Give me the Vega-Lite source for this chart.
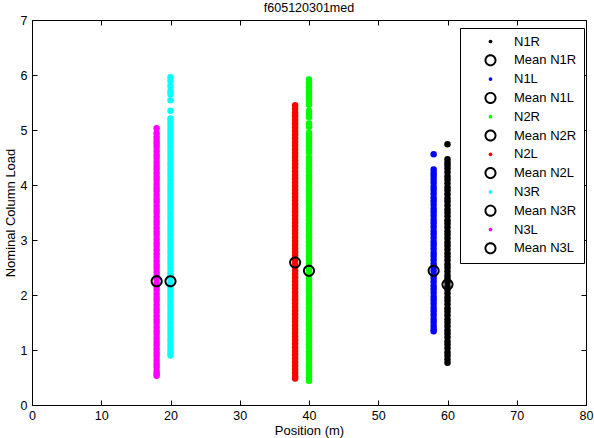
{
  "$schema": "https://vega.github.io/schema/vega-lite/v6.json",
  "autosize": "none",
  "width": 554,
  "height": 385,
  "padding": {"left": 32, "top": 20, "right": 8, "bottom": 33},
  "title": {"text": "f605120301med", "fontSize": 12.5, "fontWeight": "normal", "offset": 0, "color": "black", "anchor": "middle"},
  "datasets": {
    "pts": [
      {"s":"N1R","x":60,"y":4.74},{"s":"N1R","x":60,"y":4.47},{"s":"N1R","x":60,"y":4.41},{"s":"N1R","x":60,"y":4.36},{"s":"N1R","x":60,"y":4.30},{"s":"N1R","x":60,"y":4.23},{"s":"N1R","x":60,"y":4.16},{"s":"N1R","x":60,"y":4.10},{"s":"N1R","x":60,"y":4.03},{"s":"N1R","x":60,"y":3.96},{"s":"N1R","x":60,"y":3.90},{"s":"N1R","x":60,"y":3.83},{"s":"N1R","x":60,"y":3.76},{"s":"N1R","x":60,"y":3.70},{"s":"N1R","x":60,"y":3.63},{"s":"N1R","x":60,"y":3.56},{"s":"N1R","x":60,"y":3.50},{"s":"N1R","x":60,"y":3.43},{"s":"N1R","x":60,"y":3.36},{"s":"N1R","x":60,"y":3.30},{"s":"N1R","x":60,"y":3.23},{"s":"N1R","x":60,"y":3.16},{"s":"N1R","x":60,"y":3.10},{"s":"N1R","x":60,"y":3.03},{"s":"N1R","x":60,"y":2.96},{"s":"N1R","x":60,"y":2.90},{"s":"N1R","x":60,"y":2.83},{"s":"N1R","x":60,"y":2.76},{"s":"N1R","x":60,"y":2.70},{"s":"N1R","x":60,"y":2.63},{"s":"N1R","x":60,"y":2.56},{"s":"N1R","x":60,"y":2.50},{"s":"N1R","x":60,"y":2.43},{"s":"N1R","x":60,"y":2.36},{"s":"N1R","x":60,"y":2.30},{"s":"N1R","x":60,"y":2.23},{"s":"N1R","x":60,"y":2.16},{"s":"N1R","x":60,"y":2.10},{"s":"N1R","x":60,"y":2.03},{"s":"N1R","x":60,"y":1.96},{"s":"N1R","x":60,"y":1.90},{"s":"N1R","x":60,"y":1.83},{"s":"N1R","x":60,"y":1.76},{"s":"N1R","x":60,"y":1.70},{"s":"N1R","x":60,"y":1.63},{"s":"N1R","x":60,"y":1.56},{"s":"N1R","x":60,"y":1.50},{"s":"N1R","x":60,"y":1.43},{"s":"N1R","x":60,"y":1.36},{"s":"N1R","x":60,"y":1.30},{"s":"N1R","x":60,"y":1.23},{"s":"N1R","x":60,"y":1.16},{"s":"N1R","x":60,"y":1.10},{"s":"N1R","x":60,"y":1.03},{"s":"N1R","x":60,"y":0.96},{"s":"N1R","x":60,"y":0.90},{"s":"N1R","x":60,"y":0.83},{"s":"N1R","x":60,"y":0.77},

      {"s":"N1L","x":58,"y":4.56},{"s":"N1L","x":58,"y":4.28},{"s":"N1L","x":58,"y":4.22},{"s":"N1L","x":58,"y":4.17},{"s":"N1L","x":58,"y":4.11},{"s":"N1L","x":58,"y":4.04},{"s":"N1L","x":58,"y":3.97},{"s":"N1L","x":58,"y":3.91},{"s":"N1L","x":58,"y":3.84},{"s":"N1L","x":58,"y":3.77},{"s":"N1L","x":58,"y":3.71},{"s":"N1L","x":58,"y":3.64},{"s":"N1L","x":58,"y":3.57},{"s":"N1L","x":58,"y":3.51},{"s":"N1L","x":58,"y":3.44},{"s":"N1L","x":58,"y":3.37},{"s":"N1L","x":58,"y":3.31},{"s":"N1L","x":58,"y":3.24},{"s":"N1L","x":58,"y":3.17},{"s":"N1L","x":58,"y":3.11},{"s":"N1L","x":58,"y":3.04},{"s":"N1L","x":58,"y":2.97},{"s":"N1L","x":58,"y":2.91},{"s":"N1L","x":58,"y":2.84},{"s":"N1L","x":58,"y":2.77},{"s":"N1L","x":58,"y":2.71},{"s":"N1L","x":58,"y":2.64},{"s":"N1L","x":58,"y":2.57},{"s":"N1L","x":58,"y":2.51},{"s":"N1L","x":58,"y":2.44},{"s":"N1L","x":58,"y":2.37},{"s":"N1L","x":58,"y":2.31},{"s":"N1L","x":58,"y":2.24},{"s":"N1L","x":58,"y":2.17},{"s":"N1L","x":58,"y":2.11},{"s":"N1L","x":58,"y":2.04},{"s":"N1L","x":58,"y":1.97},{"s":"N1L","x":58,"y":1.91},{"s":"N1L","x":58,"y":1.84},{"s":"N1L","x":58,"y":1.77},{"s":"N1L","x":58,"y":1.71},{"s":"N1L","x":58,"y":1.64},{"s":"N1L","x":58,"y":1.57},{"s":"N1L","x":58,"y":1.51},{"s":"N1L","x":58,"y":1.44},{"s":"N1L","x":58,"y":1.38},{"s":"N1L","x":58,"y":1.34},

      {"s":"N2R","x":40,"y":5.92},{"s":"N2R","x":40,"y":5.85},{"s":"N2R","x":40,"y":5.78},{"s":"N2R","x":40,"y":5.71},{"s":"N2R","x":40,"y":5.65},{"s":"N2R","x":40,"y":5.59},{"s":"N2R","x":40,"y":5.53},{"s":"N2R","x":40,"y":5.46},{"s":"N2R","x":40,"y":5.35},{"s":"N2R","x":40,"y":5.29},{"s":"N2R","x":40,"y":5.23},{"s":"N2R","x":40,"y":5.12},{"s":"N2R","x":40,"y":5.06},{"s":"N2R","x":40,"y":4.95},{"s":"N2R","x":40,"y":4.89},{"s":"N2R","x":40,"y":4.83},{"s":"N2R","x":40,"y":4.77},{"s":"N2R","x":40,"y":4.71},{"s":"N2R","x":40,"y":4.65},{"s":"N2R","x":40,"y":4.59},{"s":"N2R","x":40,"y":4.50},{"s":"N2R","x":40,"y":4.44},{"s":"N2R","x":40,"y":4.37},{"s":"N2R","x":40,"y":4.30},{"s":"N2R","x":40,"y":4.24},{"s":"N2R","x":40,"y":4.17},{"s":"N2R","x":40,"y":4.10},{"s":"N2R","x":40,"y":4.04},{"s":"N2R","x":40,"y":3.97},{"s":"N2R","x":40,"y":3.90},{"s":"N2R","x":40,"y":3.84},{"s":"N2R","x":40,"y":3.77},{"s":"N2R","x":40,"y":3.70},{"s":"N2R","x":40,"y":3.64},{"s":"N2R","x":40,"y":3.57},{"s":"N2R","x":40,"y":3.50},{"s":"N2R","x":40,"y":3.44},{"s":"N2R","x":40,"y":3.37},{"s":"N2R","x":40,"y":3.30},{"s":"N2R","x":40,"y":3.24},{"s":"N2R","x":40,"y":3.17},{"s":"N2R","x":40,"y":3.10},{"s":"N2R","x":40,"y":3.04},{"s":"N2R","x":40,"y":2.97},{"s":"N2R","x":40,"y":2.90},{"s":"N2R","x":40,"y":2.84},{"s":"N2R","x":40,"y":2.77},{"s":"N2R","x":40,"y":2.70},{"s":"N2R","x":40,"y":2.64},{"s":"N2R","x":40,"y":2.57},{"s":"N2R","x":40,"y":2.50},{"s":"N2R","x":40,"y":2.44},{"s":"N2R","x":40,"y":2.37},{"s":"N2R","x":40,"y":2.30},{"s":"N2R","x":40,"y":2.24},{"s":"N2R","x":40,"y":2.17},{"s":"N2R","x":40,"y":2.10},{"s":"N2R","x":40,"y":2.04},{"s":"N2R","x":40,"y":1.97},{"s":"N2R","x":40,"y":1.90},{"s":"N2R","x":40,"y":1.84},{"s":"N2R","x":40,"y":1.77},{"s":"N2R","x":40,"y":1.70},{"s":"N2R","x":40,"y":1.64},{"s":"N2R","x":40,"y":1.57},{"s":"N2R","x":40,"y":1.50},{"s":"N2R","x":40,"y":1.44},{"s":"N2R","x":40,"y":1.37},{"s":"N2R","x":40,"y":1.30},{"s":"N2R","x":40,"y":1.24},{"s":"N2R","x":40,"y":1.17},{"s":"N2R","x":40,"y":1.10},{"s":"N2R","x":40,"y":1.04},{"s":"N2R","x":40,"y":0.97},{"s":"N2R","x":40,"y":0.90},{"s":"N2R","x":40,"y":0.84},{"s":"N2R","x":40,"y":0.77},{"s":"N2R","x":40,"y":0.70},{"s":"N2R","x":40,"y":0.64},{"s":"N2R","x":40,"y":0.57},{"s":"N2R","x":40,"y":0.50},{"s":"N2R","x":40,"y":0.44},

      {"s":"N2L","x":38,"y":5.45},{"s":"N2L","x":38,"y":5.38},{"s":"N2L","x":38,"y":5.31},{"s":"N2L","x":38,"y":5.25},{"s":"N2L","x":38,"y":5.18},{"s":"N2L","x":38,"y":5.12},{"s":"N2L","x":38,"y":5.05},{"s":"N2L","x":38,"y":4.98},{"s":"N2L","x":38,"y":4.92},{"s":"N2L","x":38,"y":4.85},{"s":"N2L","x":38,"y":4.78},{"s":"N2L","x":38,"y":4.72},{"s":"N2L","x":38,"y":4.65},{"s":"N2L","x":38,"y":4.58},{"s":"N2L","x":38,"y":4.52},{"s":"N2L","x":38,"y":4.45},{"s":"N2L","x":38,"y":4.38},{"s":"N2L","x":38,"y":4.32},{"s":"N2L","x":38,"y":4.25},{"s":"N2L","x":38,"y":4.18},{"s":"N2L","x":38,"y":4.12},{"s":"N2L","x":38,"y":4.05},{"s":"N2L","x":38,"y":3.98},{"s":"N2L","x":38,"y":3.92},{"s":"N2L","x":38,"y":3.85},{"s":"N2L","x":38,"y":3.78},{"s":"N2L","x":38,"y":3.72},{"s":"N2L","x":38,"y":3.65},{"s":"N2L","x":38,"y":3.58},{"s":"N2L","x":38,"y":3.52},{"s":"N2L","x":38,"y":3.45},{"s":"N2L","x":38,"y":3.38},{"s":"N2L","x":38,"y":3.32},{"s":"N2L","x":38,"y":3.25},{"s":"N2L","x":38,"y":3.18},{"s":"N2L","x":38,"y":3.12},{"s":"N2L","x":38,"y":3.05},{"s":"N2L","x":38,"y":2.98},{"s":"N2L","x":38,"y":2.92},{"s":"N2L","x":38,"y":2.85},{"s":"N2L","x":38,"y":2.78},{"s":"N2L","x":38,"y":2.72},{"s":"N2L","x":38,"y":2.65},{"s":"N2L","x":38,"y":2.58},{"s":"N2L","x":38,"y":2.52},{"s":"N2L","x":38,"y":2.45},{"s":"N2L","x":38,"y":2.38},{"s":"N2L","x":38,"y":2.32},{"s":"N2L","x":38,"y":2.25},{"s":"N2L","x":38,"y":2.18},{"s":"N2L","x":38,"y":2.12},{"s":"N2L","x":38,"y":2.05},{"s":"N2L","x":38,"y":1.98},{"s":"N2L","x":38,"y":1.92},{"s":"N2L","x":38,"y":1.85},{"s":"N2L","x":38,"y":1.78},{"s":"N2L","x":38,"y":1.72},{"s":"N2L","x":38,"y":1.65},{"s":"N2L","x":38,"y":1.58},{"s":"N2L","x":38,"y":1.52},{"s":"N2L","x":38,"y":1.45},{"s":"N2L","x":38,"y":1.38},{"s":"N2L","x":38,"y":1.32},{"s":"N2L","x":38,"y":1.25},{"s":"N2L","x":38,"y":1.18},{"s":"N2L","x":38,"y":1.12},{"s":"N2L","x":38,"y":1.05},{"s":"N2L","x":38,"y":0.98},{"s":"N2L","x":38,"y":0.92},{"s":"N2L","x":38,"y":0.85},{"s":"N2L","x":38,"y":0.78},{"s":"N2L","x":38,"y":0.72},{"s":"N2L","x":38,"y":0.65},{"s":"N2L","x":38,"y":0.58},{"s":"N2L","x":38,"y":0.52},{"s":"N2L","x":38,"y":0.48},

      {"s":"N3R","x":20,"y":5.96},{"s":"N3R","x":20,"y":5.89},{"s":"N3R","x":20,"y":5.80},{"s":"N3R","x":20,"y":5.71},{"s":"N3R","x":20,"y":5.65},{"s":"N3R","x":20,"y":5.54},{"s":"N3R","x":20,"y":5.35},{"s":"N3R","x":20,"y":5.21},{"s":"N3R","x":20,"y":5.15},{"s":"N3R","x":20,"y":5.08},{"s":"N3R","x":20,"y":5.02},{"s":"N3R","x":20,"y":4.95},{"s":"N3R","x":20,"y":4.88},{"s":"N3R","x":20,"y":4.82},{"s":"N3R","x":20,"y":4.75},{"s":"N3R","x":20,"y":4.68},{"s":"N3R","x":20,"y":4.61},{"s":"N3R","x":20,"y":4.55},{"s":"N3R","x":20,"y":4.48},{"s":"N3R","x":20,"y":4.41},{"s":"N3R","x":20,"y":4.35},{"s":"N3R","x":20,"y":4.28},{"s":"N3R","x":20,"y":4.21},{"s":"N3R","x":20,"y":4.15},{"s":"N3R","x":20,"y":4.08},{"s":"N3R","x":20,"y":4.01},{"s":"N3R","x":20,"y":3.95},{"s":"N3R","x":20,"y":3.88},{"s":"N3R","x":20,"y":3.81},{"s":"N3R","x":20,"y":3.75},{"s":"N3R","x":20,"y":3.68},{"s":"N3R","x":20,"y":3.61},{"s":"N3R","x":20,"y":3.55},{"s":"N3R","x":20,"y":3.48},{"s":"N3R","x":20,"y":3.41},{"s":"N3R","x":20,"y":3.35},{"s":"N3R","x":20,"y":3.28},{"s":"N3R","x":20,"y":3.21},{"s":"N3R","x":20,"y":3.15},{"s":"N3R","x":20,"y":3.08},{"s":"N3R","x":20,"y":3.01},{"s":"N3R","x":20,"y":2.95},{"s":"N3R","x":20,"y":2.88},{"s":"N3R","x":20,"y":2.81},{"s":"N3R","x":20,"y":2.75},{"s":"N3R","x":20,"y":2.68},{"s":"N3R","x":20,"y":2.61},{"s":"N3R","x":20,"y":2.55},{"s":"N3R","x":20,"y":2.48},{"s":"N3R","x":20,"y":2.41},{"s":"N3R","x":20,"y":2.35},{"s":"N3R","x":20,"y":2.28},{"s":"N3R","x":20,"y":2.21},{"s":"N3R","x":20,"y":2.15},{"s":"N3R","x":20,"y":2.08},{"s":"N3R","x":20,"y":2.01},{"s":"N3R","x":20,"y":1.95},{"s":"N3R","x":20,"y":1.88},{"s":"N3R","x":20,"y":1.81},{"s":"N3R","x":20,"y":1.75},{"s":"N3R","x":20,"y":1.68},{"s":"N3R","x":20,"y":1.61},{"s":"N3R","x":20,"y":1.55},{"s":"N3R","x":20,"y":1.48},{"s":"N3R","x":20,"y":1.41},{"s":"N3R","x":20,"y":1.35},{"s":"N3R","x":20,"y":1.28},{"s":"N3R","x":20,"y":1.21},{"s":"N3R","x":20,"y":1.15},{"s":"N3R","x":20,"y":1.08},{"s":"N3R","x":20,"y":1.01},{"s":"N3R","x":20,"y":0.95},{"s":"N3R","x":20,"y":0.90},

      {"s":"N3L","x":18,"y":5.03},{"s":"N3L","x":18,"y":4.94},{"s":"N3L","x":18,"y":4.87},{"s":"N3L","x":18,"y":4.80},{"s":"N3L","x":18,"y":4.75},{"s":"N3L","x":18,"y":4.69},{"s":"N3L","x":18,"y":4.62},{"s":"N3L","x":18,"y":4.55},{"s":"N3L","x":18,"y":4.49},{"s":"N3L","x":18,"y":4.42},{"s":"N3L","x":18,"y":4.35},{"s":"N3L","x":18,"y":4.29},{"s":"N3L","x":18,"y":4.22},{"s":"N3L","x":18,"y":4.15},{"s":"N3L","x":18,"y":4.09},{"s":"N3L","x":18,"y":4.02},{"s":"N3L","x":18,"y":3.95},{"s":"N3L","x":18,"y":3.89},{"s":"N3L","x":18,"y":3.82},{"s":"N3L","x":18,"y":3.75},{"s":"N3L","x":18,"y":3.69},{"s":"N3L","x":18,"y":3.62},{"s":"N3L","x":18,"y":3.55},{"s":"N3L","x":18,"y":3.49},{"s":"N3L","x":18,"y":3.42},{"s":"N3L","x":18,"y":3.35},{"s":"N3L","x":18,"y":3.29},{"s":"N3L","x":18,"y":3.22},{"s":"N3L","x":18,"y":3.15},{"s":"N3L","x":18,"y":3.09},{"s":"N3L","x":18,"y":3.02},{"s":"N3L","x":18,"y":2.95},{"s":"N3L","x":18,"y":2.89},{"s":"N3L","x":18,"y":2.82},{"s":"N3L","x":18,"y":2.75},{"s":"N3L","x":18,"y":2.69},{"s":"N3L","x":18,"y":2.62},{"s":"N3L","x":18,"y":2.55},{"s":"N3L","x":18,"y":2.49},{"s":"N3L","x":18,"y":2.42},{"s":"N3L","x":18,"y":2.35},{"s":"N3L","x":18,"y":2.29},{"s":"N3L","x":18,"y":2.22},{"s":"N3L","x":18,"y":2.15},{"s":"N3L","x":18,"y":2.09},{"s":"N3L","x":18,"y":2.02},{"s":"N3L","x":18,"y":1.95},{"s":"N3L","x":18,"y":1.89},{"s":"N3L","x":18,"y":1.82},{"s":"N3L","x":18,"y":1.75},{"s":"N3L","x":18,"y":1.69},{"s":"N3L","x":18,"y":1.62},{"s":"N3L","x":18,"y":1.55},{"s":"N3L","x":18,"y":1.49},{"s":"N3L","x":18,"y":1.42},{"s":"N3L","x":18,"y":1.35},{"s":"N3L","x":18,"y":1.29},{"s":"N3L","x":18,"y":1.22},{"s":"N3L","x":18,"y":1.15},{"s":"N3L","x":18,"y":1.09},{"s":"N3L","x":18,"y":1.02},{"s":"N3L","x":18,"y":0.95},{"s":"N3L","x":18,"y":0.89},{"s":"N3L","x":18,"y":0.82},{"s":"N3L","x":18,"y":0.75},{"s":"N3L","x":18,"y":0.69},{"s":"N3L","x":18,"y":0.62},{"s":"N3L","x":18,"y":0.57},{"s":"N3L","x":18,"y":0.53}
    ],
    "means": [
      {"s":"Mean N1R","x":60,"y":2.19},
      {"s":"Mean N1L","x":58,"y":2.44},
      {"s":"Mean N2R","x":40,"y":2.44},
      {"s":"Mean N2L","x":38,"y":2.59},
      {"s":"Mean N3R","x":20,"y":2.25},
      {"s":"Mean N3L","x":18,"y":2.25}
    ]
  },
  "layer": [
    {
      "data": {"name": "pts"},
      "mark": {"type": "point", "filled": true, "size": 42, "opacity": 1, "strokeWidth": 0},
      "encoding": {
        "x": {"field": "x", "type": "quantitative", "scale": {"domain": [0, 80], "nice": false, "zero": false},
              "axis": {"orient": "bottom", "values": [0,10,20,30,40,50,60,70,80], "title": "Position (m)"}},
        "y": {"field": "y", "type": "quantitative", "scale": {"domain": [0, 7], "nice": false, "zero": false},
              "axis": {"orient": "left", "values": [0,1,2,3,4,5,6,7], "title": "Nominal Column Load", "labelPadding": 10, "titlePadding": 3}},
        "color": {
          "field": "s", "type": "nominal", "title": "series",
          "scale": {
            "domain": ["N1R","Mean N1R","N1L","Mean N1L","N2R","Mean N2R","N2L","Mean N2L","N3R","Mean N3R","N3L","Mean N3L"],
            "range": ["#000000","#000000","#0000ff","#000000","#00ff00","#000000","#ff0000","#000000","#00ffff","#000000","#ff00ff","#000000"]
          },
          "legend": {"title": null, "orient": "none", "legendX": 428, "legendY": 8}
        }
      }
    },
    {
      "data": {"name": "means"},
      "mark": {"type": "point", "filled": true, "opacity": 1, "strokeWidth": 0},
      "encoding": {
        "x": {"field": "x", "type": "quantitative",
              "axis": {"orient": "top", "values": [0,10,20,30,40,50,60,70,80], "labels": false, "title": null}},
        "y": {"field": "y", "type": "quantitative",
              "axis": {"orient": "right", "values": [0,1,2,3,4,5,6,7], "labels": false, "title": null}},
        "color": {"field": "s", "type": "nominal", "title": "series"},
        "shape": {
          "field": "s", "type": "nominal", "title": "series",
          "scale": {
            "domain": ["N1R","Mean N1R","N1L","Mean N1L","N2R","Mean N2R","N2L","Mean N2L","N3R","Mean N3R","N3L","Mean N3L"],
            "range": [
              "circle", "M1,0A1,1 0 1,1 -1,0A1,1 0 1,1 1,0Z M0.68,0A0.68,0.68 0 1,0 -0.68,0A0.68,0.68 0 1,0 0.68,0Z",
              "circle", "M1,0A1,1 0 1,1 -1,0A1,1 0 1,1 1,0Z M0.68,0A0.68,0.68 0 1,0 -0.68,0A0.68,0.68 0 1,0 0.68,0Z",
              "circle", "M1,0A1,1 0 1,1 -1,0A1,1 0 1,1 1,0Z M0.68,0A0.68,0.68 0 1,0 -0.68,0A0.68,0.68 0 1,0 0.68,0Z",
              "circle", "M1,0A1,1 0 1,1 -1,0A1,1 0 1,1 1,0Z M0.68,0A0.68,0.68 0 1,0 -0.68,0A0.68,0.68 0 1,0 0.68,0Z",
              "circle", "M1,0A1,1 0 1,1 -1,0A1,1 0 1,1 1,0Z M0.68,0A0.68,0.68 0 1,0 -0.68,0A0.68,0.68 0 1,0 0.68,0Z",
              "circle", "M1,0A1,1 0 1,1 -1,0A1,1 0 1,1 1,0Z M0.68,0A0.68,0.68 0 1,0 -0.68,0A0.68,0.68 0 1,0 0.68,0Z"
            ]
          },
          "legend": {"title": null, "orient": "none", "legendX": 428, "legendY": 8}
        },
        "size": {
          "field": "s", "type": "nominal", "title": "series",
          "scale": {
            "type": "ordinal",
            "domain": ["N1R","Mean N1R","N1L","Mean N1L","N2R","Mean N2R","N2L","Mean N2L","N3R","Mean N3R","N3L","Mean N3L"],
            "range": [14,145,14,145,14,145,14,145,14,145,14,145]
          },
          "legend": {"title": null, "orient": "none", "legendX": 428, "legendY": 8}
        }
      }
    }
  ],
  "resolve": {"axis": {"x": "independent", "y": "independent"}},
  "config": {
    "font": "Liberation Sans",
    "view": {"stroke": null},
    "axis": {
      "grid": false,
      "domain": true,
      "domainColor": "#000000",
      "domainWidth": 1,
      "ticks": true,
      "tickColor": "#000000",
      "tickSize": -5,
      "tickWidth": 1,
      "labelColor": "#000000",
      "labelFontSize": 12.5,
      "labelPadding": 9,
      "labelFlush": false,
      "labelOverlap": false,
      "titleColor": "#000000",
      "titleFontSize": 13,
      "titleFontWeight": "normal",
      "titlePadding": 3
    },
    "legend": {
      "fillColor": "#ffffff",
      "strokeColor": "#000000",
      "strokeWidth": 1,
      "padding": 7,
      "rowPadding": 4.8,
      "symbolOffset": 17,
      "labelOffset": 17,
      "labelFontSize": 13,
      "labelColor": "#000000",
      "symbolStrokeWidth": 0,
      "symbolOpacity": 1
    }
  }
}
